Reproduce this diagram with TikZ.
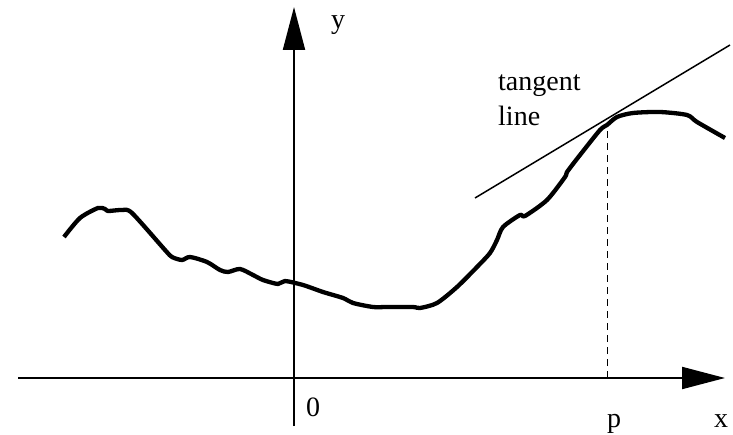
\documentclass[tikz,border=0pt]{standalone}
\usepackage{fontspec}
\setmainfont{Liberation Serif}
\usetikzlibrary{arrows.meta}
\begin{document}
\begin{tikzpicture}[x=1pt,y=-1pt,
  axis/.style={line width=2pt,-{Triangle[length=43pt,width=22pt]}},
  curve/.style={line width=4.3pt,line join=round,line cap=butt},
  tanline/.style={line width=1.5pt},
  guide/.style={line width=1pt,dash pattern=on 7pt off 5pt},
  lbl/.style={font=\fontsize{28}{33}\selectfont,inner sep=0pt,anchor=base west}]
\useasboundingbox (0,0) rectangle (733,435);
% axes
\coordinate (xs) at (18,378);
\coordinate (xe) at (725,378);
\coordinate (ys) at (294,426);
\coordinate (ye) at (294,7);
\draw[axis] (xs) -- (xe);
\draw[axis] (ys) -- (ye);
% curve
\draw[curve] plot[smooth,tension=0.45] coordinates {
 (64,237) (80,218) (98,208) (105,209) (108,211) (122,210) (132,213) (165,250) (172,257)
 (182,260) (190,257) (207,262) (220,270) (228,272) (240,269) (253,275) (263,280)
 (278,284) (285,281) (303,285) (323,292) (343,298) (353,303) (373,307) (387,307)
 (413,307) (420,308) (437,303) (457,287) (477,267) (490,253) (497,240) (503,227)
 (520,215) (525,216) (547,200) (565,177) (567,172) (580,155) (600,130) (607,125)
 (617,117) (633,113) (660,112) (687,115) (697,122) (725,138)};
% tangent line
\coordinate (t1) at (475,198);
\coordinate (t2) at (730,45);
\draw[tanline] (t1) -- (t2);
% dashed guide
\coordinate (pa) at (607,378);
\coordinate (pb) at (607,124);
\draw[guide] (pa) -- (pb);
% labels
\node[lbl] (ylab) at (331,29) {y};
\node[lbl] (zero) at (306,416) {0};
\node[lbl] (plab) at (607,427) {p};
\node[lbl] (xlab) at (714,427) {x};
\node[lbl] (tang) at (498,91) {tangent};
\node[lbl] (line) at (498,126) {line};
\end{tikzpicture}
\end{document}
